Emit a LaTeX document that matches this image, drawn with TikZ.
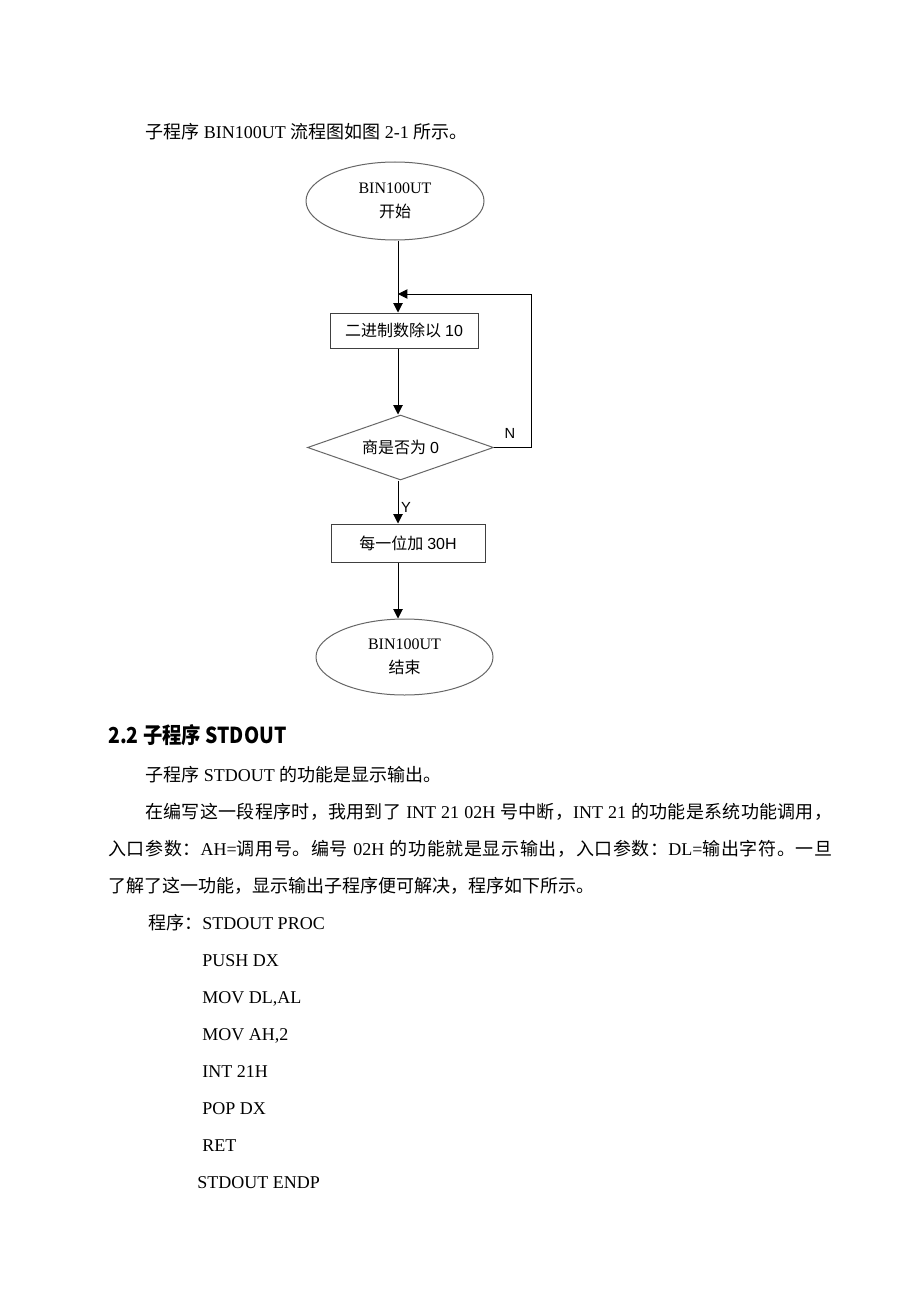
\documentclass[tikz,border=0pt]{standalone}
\usepackage{fontspec}
\setmainfont{Liberation Serif}
\newfontfamily\cjk{Noto Sans CJK SC}
\newfontfamily\arialf{Liberation Sans}
\usetikzlibrary{shapes.geometric,arrows.meta}
\XeTeXinterchartokenstate=1
\newXeTeXintercharclass\CJKcls
\newcount\cccnt
\cccnt="4E00
\loop
  \XeTeXcharclass\cccnt=\CJKcls
  \ifnum\cccnt<"9FFF \advance\cccnt by 1
\repeat
\XeTeXcharclass"3001=\CJKcls
\XeTeXcharclass"3002=\CJKcls
\XeTeXcharclass"FF0C=\CJKcls
\XeTeXcharclass"FF1A=\CJKcls
\XeTeXinterchartoks\CJKcls\CJKcls={\hskip 0pt plus 1pt\relax}
\newcommand\zh[1]{{\cjk #1}}
\tikzset{
  body/.style={anchor=base west,inner sep=0pt,font=\fontsize{13.5}{16}\selectfont},
  head/.style={anchor=base west,inner sep=0pt,font=\fontsize{16.5}{20}\selectfont\cjk\bfseries},
  fc/.style={inner sep=0pt,font=\fontsize{12}{18}\selectfont,align=center},
  term/.style={fc,ellipse,draw=black!60,line width=0.75pt},
  proc/.style={fc,rectangle,draw=black!75,line width=0.75pt},
  dec/.style={fc,diamond,draw=black!60,line width=0.75pt,aspect=2.86},
  arr/.style={draw=black,line width=0.75pt,-{Triangle[length=7pt,width=7pt]}},
  lbl/.style={inner sep=0pt,font=\fontsize{11}{13}\selectfont\arialf}
}
\begin{document}
\begin{tikzpicture}[x=0.75pt,y=-0.75pt]
\fill[white] (0,0) rectangle (920,1302);
\path[use as bounding box] (0,0) rectangle (920,1302);

% intro line
\node[body] (intro) at (145,139) {\zh{子程序} BIN100UT \zh{流程图如图} 2-1 \zh{所示。}};

% flowchart
\coordinate (ax) at (398,0);
\node[term,minimum width=133.5pt,minimum height=58.5pt] (s) at (395,201) {BIN100UT\\\zh{开始}};
\node[proc,minimum width=111pt,minimum height=26.25pt] (b1) at (404,330.5) {\zh{二进制数除以} {\arialf 10}};
\node[dec,minimum width=139.5pt,minimum height=48.75pt] (d) at (400.5,447.5) {\zh{商是否为} {\arialf 0}};
\node[proc,minimum width=115.5pt,minimum height=28.5pt] (b2) at (408,543) {\zh{每一位加} {\arialf 30H}};
\node[term,minimum width=132.75pt,minimum height=57pt] (e) at (404.5,657) {BIN100UT\\\zh{结束}};

\coordinate (lp) at (531,294);
\coordinate (li) at (398,294);
\draw[arr] (s.south -| ax) -- (b1.north -| ax);
\draw[arr] (b1.south -| ax) -- (d.north -| ax);
\draw[arr] (d.south -| ax) -- (b2.north -| ax);
\draw[arr] (b2.south -| ax) -- (e.north -| ax);
\draw[arr] (d.east) -| (lp) -- (li);
\node[lbl] (nl) at (510,433) {N};
\node[lbl] (yl) at (406,507) {Y};

% heading
\node[head] (h) at (108,743) {\scalebox{0.88}[1]{2.2 子程序 STDOUT}};

% paragraphs
\node[body] (p1) at (145,781) {\zh{子程序} STDOUT \zh{的功能是显示输出。}};
\node[body] (p2) at (145,818) {\makebox[515.25pt][s]{\zh{在编写这一段程序时，我用到了} INT 21 02H \zh{号中断，}INT 21 \zh{的功能是系统功能调用，}}};
\node[body] (p3) at (108,855) {\makebox[543pt][s]{\zh{入口参数：}AH=\zh{调用号。编号} 02H \zh{的功能就是显示输出，入口参数：}DL=\zh{输出字符。一旦}}};
\node[body] (p4) at (108,892) {\zh{了解了这一功能，显示输出子程序便可解决，程序如下所示。}};

% code
\node[body] (c0) at (148,929) {\zh{程序：}STDOUT PROC};
\node[body] (c1) at (202,966) {PUSH DX};
\node[body] (c2) at (202,1003) {MOV DL,AL};
\node[body] (c3) at (202,1040) {MOV AH,2};
\node[body] (c4) at (202,1077) {INT 21H};
\node[body] (c5) at (202,1114) {POP DX};
\node[body] (c6) at (202,1151) {RET};
\node[body] (c7) at (197,1188) {STDOUT ENDP};
\end{tikzpicture}
\end{document}
